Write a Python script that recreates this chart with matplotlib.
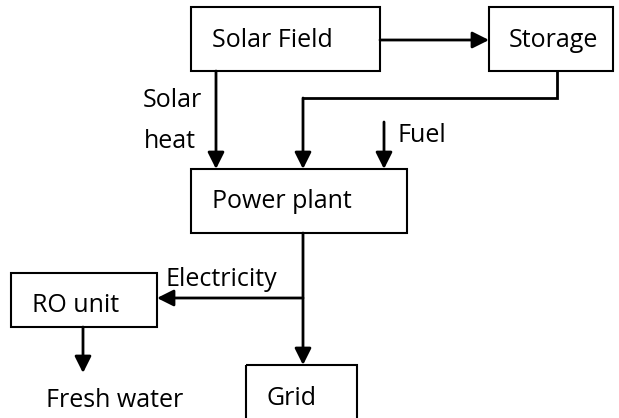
import matplotlib.pyplot as plt
from matplotlib.patches import Rectangle

plt.rcParams['font.family'] = ['Open Sans', 'DejaVu Sans']

# boxes: label, (x0, y0, x1, y1) in pixel coords of the 619x418 picture
box_labels = ['Solar Field', 'Storage', 'Power plant', 'RO unit', 'Grid']
box_rects = [(191, 7, 380, 71), (489, 7, 613, 71), (191, 169, 407, 233),
             (11, 273, 157, 327), (246, 365, 357, 425)]
box_text_xy = [(212, 47), (509, 47), (212, 208), (32, 312), (267, 405)]

# flow labels (left-aligned) and the two right-aligned "Solar heat" lines
flow_labels = ['Fuel', 'Electricity', 'Fresh water']
flow_text_xy = [(397, 142), (166, 286), (46, 407)]
side_labels = ['Solar', 'heat']
side_text_xy = [(202, 107), (196, 148)]

# connectors (polylines), last segment gets an arrow head
arrows = [
    [(380, 40), (489, 40)],
    [(216, 71), (216, 169)],
    [(557, 71), (557, 98), (303, 98), (303, 169)],
    [(384, 122), (384, 169)],
    [(303, 233), (303, 365)],
    [(303, 298), (157, 298)],
    [(83, 327), (83, 373)],
]

fs = 18

fig = plt.figure(figsize=(6.19, 4.18), dpi=100)
ax = fig.add_axes([0, 0, 1, 1])
ax.set_xlim(0, 619)
ax.set_ylim(418, 0)
ax.axis('off')

for lab, (x0, y0, x1, y1), (tx, ty) in zip(box_labels, box_rects, box_text_xy):
    ax.add_patch(Rectangle((x0, y0), x1 - x0, y1 - y0, fill=False,
                           edgecolor='black', linewidth=1.5))
    ax.text(tx, ty, lab, ha='left', va='baseline', fontsize=fs)

for pts in arrows:
    xs = [p[0] for p in pts[:-1]]
    ys = [p[1] for p in pts[:-1]]
    if len(pts) > 2:
        ax.plot(xs, ys, color='black', linewidth=2, solid_capstyle='butt',
                solid_joinstyle='miter')
    ax.annotate('', xy=pts[-1], xytext=pts[-2],
                arrowprops=dict(arrowstyle='-|>,head_length=1.0,head_width=0.5',
                                mutation_scale=10, color='black', linewidth=2,
                                shrinkA=0, shrinkB=0))

for lab, (x, y) in zip(flow_labels, flow_text_xy):
    ax.text(x, y, lab, ha='left', va='baseline', fontsize=fs)
for lab, (x, y) in zip(side_labels, side_text_xy):
    ax.text(x, y, lab, ha='right', va='baseline', fontsize=fs)

fig.savefig('out.png', dpi=100)
